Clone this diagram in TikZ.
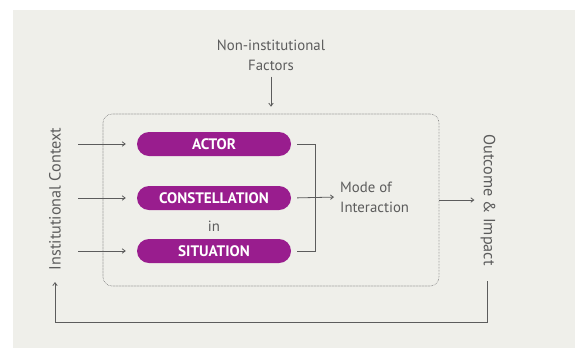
\documentclass[tikz,border=0pt]{standalone}
\usepackage{fontspec}
\setmainfont{PT Sans}
\usetikzlibrary{arrows.meta}
\definecolor{panel}{HTML}{EFEFEA}
\definecolor{pillc}{HTML}{991D8E}
\definecolor{ink}{HTML}{5C5C5C}
\begin{document}
\begin{tikzpicture}[x=1pt,y=-1pt,
  font=\fontsize{14.8}{20}\selectfont,
  txt/.style={text=ink,inner sep=2pt},
  sidetxt/.style={txt,font=\fontsize{16.2}{20}\selectfont},
  pillbox/.style={fill=pillc,text=white,rounded corners=12pt,minimum width=154pt,
    minimum height=24pt,inner sep=0pt,font=\fontsize{15.2}{16}\selectfont\bfseries},
  line/.style={draw=ink,line width=0.8pt},
  arr/.style={line,-{Straight Barb[length=3pt,width=4.5pt]}}]
  \useasboundingbox (0,0) rectangle (575,349);
  \fill[panel] (13,10) rectangle (575,348);
  % frame
  \node[draw=ink!80,line width=0.6pt,dash pattern=on 0.6pt off 0.9pt,rounded corners=9pt,
    minimum width=336pt,minimum height=172pt] (frame) at (271,200) {};
  % pills
  \node[pillbox] (actor) at (214,144) {ACTOR};
  \node[pillbox] (const) at (214,198) {CONSTELLATION};
  \node[pillbox] (sit) at (214,251) {SITUATION};
  \node[txt] (in) at (214,226) {in};
  % labels
  \node[txt,align=center] (nonins) at (271,55) {Non-institutional\\Factors};
  \node[txt,align=left,anchor=west] (mode) at (338,197) {Mode of\\Interaction};
  \node[sidetxt,rotate=90] (inst) at (55,199) {Institutional Context};
  \node[sidetxt,rotate=-90] (outc) at (488,200) {Outcome \& Impact};
  \coordinate (ia) at (78,144);
  \coordinate (ib) at (78,198);
  \coordinate (ic) at (78,251);
  \coordinate (join) at (315,198);
  \coordinate (fbtop) at (487,281);
  \coordinate (fbbot) at (55,322);
  \coordinate (fbend) at (55,282);
  % arrows
  \draw[arr,shorten >=11pt] (ia) -- (actor.west);
  \draw[arr,shorten >=11pt] (ib) -- (const.west);
  \draw[arr,shorten >=11pt] (ic) -- (sit.west);
  \draw[arr,shorten <=4pt,shorten >=7pt] (nonins.south) -- (frame.north);
  \draw[line,shorten <=6pt] (actor.east) -| (join);
  \draw[line,shorten <=6pt] (sit.east) -| (join);
  \draw[arr,shorten <=6pt,shorten >=4pt] (const.east) -- (mode.west);
  \draw[arr,shorten >=4pt] (frame.east) -- (outc.south);
  \draw[arr] (fbtop) |- (fbbot) -- (fbend);
\end{tikzpicture}
\end{document}
